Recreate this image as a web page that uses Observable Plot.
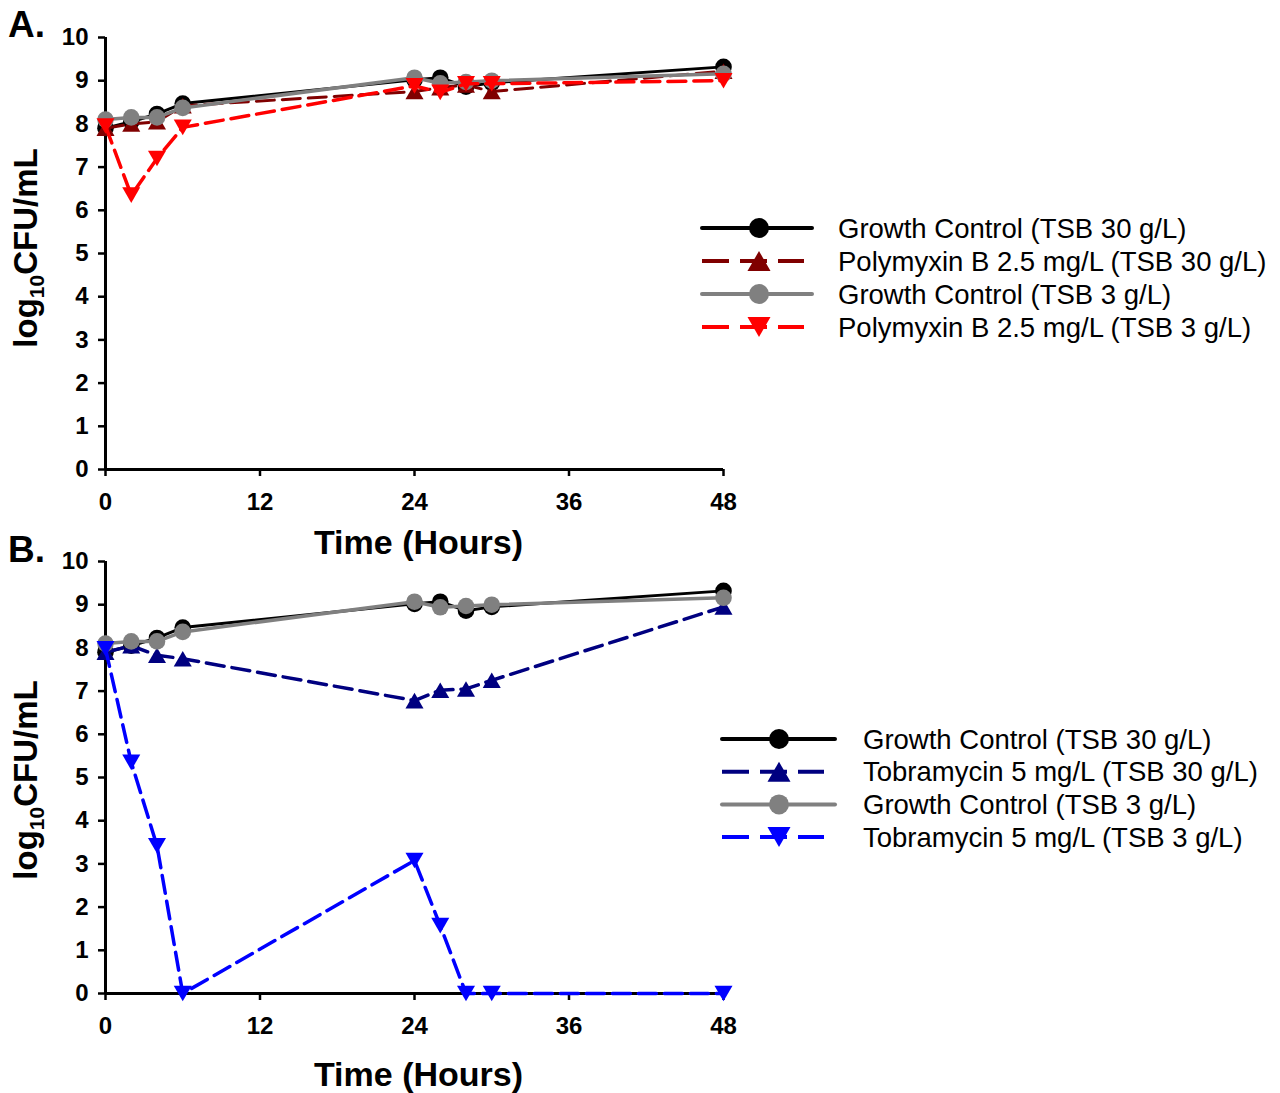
<!DOCTYPE html>
<html><head><meta charset="utf-8">
<script src="https://cdn.jsdelivr.net/npm/d3@7"></script>
<script src="https://cdn.jsdelivr.net/npm/@observablehq/plot@0.6"></script>
<style>
body{margin:0;background:#fff;}
#root{position:relative;width:1280px;height:1093px;font-family:"Liberation Sans",Arial,sans-serif;}
#root svg{position:absolute;left:0;overflow:visible;}
</style>
</head><body><div id="root"></div>
<script>
// ---- data ----
const times = [0, 2, 4, 6, 24, 26, 28, 30, 48];
const xTicks = [0, 12, 24, 36, 48];
const yTicks = [0, 1, 2, 3, 4, 5, 6, 7, 8, 9, 10];
const gc30 = [7.9, 8.05, 8.23, 8.47, 9.02, 9.07, 8.86, 8.95, 9.32];
const gc3 = [8.1, 8.15, 8.15, 8.37, 9.07, 8.94, 8.97, 9.0, 9.16];
const pmb30 = [7.9, 8.0, 8.05, 8.42, 8.75, 8.84, 8.9, 8.75, 9.22];
const pmb3 = [7.95, 6.35, 7.2, 7.92, 8.88, 8.73, 8.93, 8.93, 9.0];
const tob30 = [7.9, 8.05, 7.83, 7.75, 6.78, 7.02, 7.05, 7.25, 8.95];
const tob3 = [7.98, 5.35, 3.42, 0, 3.08, 1.57, 0, 0, 0];
const namesA = ["Growth Control (TSB 30 g/L)", "Polymyxin B 2.5 mg/L (TSB 30 g/L)", "Growth Control (TSB 3 g/L)", "Polymyxin B 2.5 mg/L (TSB 3 g/L)"];
const namesB = ["Growth Control (TSB 30 g/L)", "Tobramycin 5 mg/L (TSB 30 g/L)", "Growth Control (TSB 3 g/L)", "Tobramycin 5 mg/L (TSB 3 g/L)"];
const xTitle = "Time (Hours)";

// ---- symbols ----
const S3 = Math.sqrt(3);
const upTri = {draw(ctx, size){const k=Math.sqrt(size/(3*S3));const h=1.5*k,w=S3*k;ctx.moveTo(0,-h);ctx.lineTo(w,h);ctx.lineTo(-w,h);ctx.closePath();}};
const downTri = {draw(ctx, size){const k=Math.sqrt(size/(3*S3));const h=1.5*k,w=S3*k;ctx.moveTo(0,h);ctx.lineTo(w,-h);ctx.lineTo(-w,-h);ctx.closePath();}};

const DASH = "18,8";
const seriesA = [
  {name: namesA[0], values: gc30, color: "#000000", width: 3, dash: null, symbol: "circle", r: 8.3},
  {name: namesA[1], values: pmb30, color: "#800000", width: 3, dash: DASH, symbol: upTri, r: 6.7},
  {name: namesA[2], values: gc3, color: "#808080", width: 3.5, dash: null, symbol: "circle", r: 8.3},
  {name: namesA[3], values: pmb3, color: "#FF0000", width: 3.5, dash: DASH, symbol: downTri, r: 6.7}
];
const seriesB = [
  {name: namesB[0], values: gc30, color: "#000000", width: 3, dash: null, symbol: "circle", r: 8.3},
  {name: namesB[1], values: tob30, color: "#000080", width: 3.5, dash: DASH, symbol: upTri, r: 6.7},
  {name: namesB[2], values: gc3, color: "#808080", width: 3.5, dash: null, symbol: "circle", r: 8.3},
  {name: namesB[3], values: tob3, color: "#0000FF", width: 3.5, dash: DASH, symbol: downTri, r: 6.7}
];

const root = document.getElementById("root");

function panel({series, top, height, mt, mb, letter, letterY, titleDy, ylabY}) {
  const marks = [
    Plot.ruleX([0], {y1: 0, y2: 10, stroke: "black", strokeWidth: 3}),
    Plot.ruleY([0], {stroke: "black", strokeWidth: 3}),
    Plot.axisX({ticks: xTicks, tickSize: 7, tickPadding: 16, fontSize: 24, fontWeight: "bold", strokeWidth: 2.5, label: null, fill: "black", stroke: "black"}),
    Plot.axisY({ticks: yTicks, tickSize: 7, tickPadding: 10, fontSize: 24, fontWeight: "bold", strokeWidth: 2.5, label: null, fill: "black", stroke: "black"}),
    Plot.text([xTitle], {frameAnchor: "bottom", dx: 4, dy: titleDy, lineAnchor: "middle", fontSize: 34, fontWeight: "bold", fill: "black"})
  ];
  for (const s of series) {
    const rows = times.map((t, i) => ({t, v: s.values[i]}));
    marks.push(Plot.line(rows, {x: "t", y: "v", stroke: s.color, strokeWidth: s.width, strokeDasharray: s.dash ?? undefined}));
    marks.push(Plot.dot(rows, {x: "t", y: "v", fill: s.color, stroke: "none", r: s.r, symbol: s.symbol}));
  }
  const svg = Plot.plot({
    width: 1280, height,
    marginLeft: 105, marginRight: 557, marginTop: mt, marginBottom: mb,
    x: {domain: [0, 48]}, y: {domain: [0, 10]},
    style: {fontFamily: '"Liberation Sans", Arial, sans-serif', background: "transparent", color: "black"},
    marks
  });
  svg.style.top = top + "px";
  const sel = d3.select(svg);
  sel.append("text").attr("x", 8).attr("y", letterY).attr("text-anchor", "start")
    .attr("font-size", 37).attr("font-weight", "bold").attr("fill", "black").text(letter);
  const yl = sel.append("text")
    .attr("transform", `translate(37, ${ylabY}) rotate(-90)`)
    .attr("text-anchor", "middle").attr("font-weight", "bold").attr("font-size", 33).attr("fill", "black");
  yl.append("tspan").text("log");
  yl.append("tspan").attr("font-size", 21).attr("dy", 7).text("10");
  yl.append("tspan").attr("dy", -7).text("CFU/mL");
  root.appendChild(svg);
}

panel({series: seriesA, top: 0, height: 530, mt: 37, mb: 61, letter: "A.", letterY: 37, titleDy: 74, ylabY: 248});
panel({series: seriesB, top: 530, height: 563, mt: 31, mb: 100, letter: "B.", letterY: 32, titleDy: 82, ylabY: 250});

// ---- legends ----
const overlay = d3.select(root).append("svg").attr("width", 1280).attr("height", 1093).style("top", "0px");
function legend(series, {x0, x1, mx, tx, y0, dy, dashEnd}) {
  series.forEach((s, i) => {
    const y = y0 + i * dy;
    const g = overlay.append("g");
    if (s.dash) {
      g.append("line").attr("x1", x0).attr("x2", dashEnd).attr("y1", y).attr("y2", y)
        .attr("stroke", s.color).attr("stroke-width", 4).attr("stroke-dasharray", "27,11");
    } else {
      g.append("line").attr("x1", x0).attr("x2", x1).attr("y1", y).attr("y2", y)
        .attr("stroke", s.color).attr("stroke-width", 4).attr("stroke-linecap", "round");
    }
    const sym = s.symbol === "circle" ? d3.symbolCircle : s.symbol;
    g.append("path").attr("transform", `translate(${mx},${y})`)
      .attr("d", d3.symbol(sym, s.symbol === "circle" ? Math.PI * 100 : 230)())
      .attr("fill", s.color);
    g.append("text").attr("x", tx).attr("y", y).attr("dy", "0.35em")
      .attr("font-size", 27.5).attr("fill", "black").text(s.name);
  });
}
legend(seriesA, {x0: 702, x1: 812, mx: 759, tx: 838, y0: 228, dy: 33, dashEnd: 804});
legend(seriesB, {x0: 722, x1: 835, mx: 779, tx: 863, y0: 739, dy: 32.7, dashEnd: 824});
</script>
</body></html>
